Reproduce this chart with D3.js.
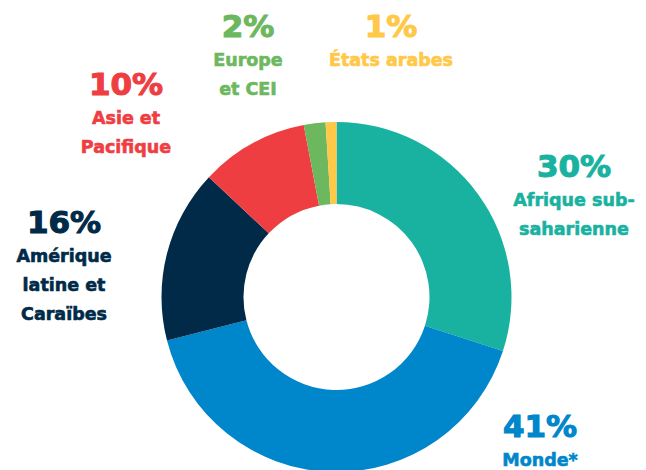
<!DOCTYPE html>
<html>
<head>
<meta charset="utf-8">
<script src="https://cdn.jsdelivr.net/npm/d3@7"></script>
<style>
  body { margin: 0; background: #fff; }
  svg text { font-family: "DejaVu Sans", sans-serif; font-weight: bold; text-anchor: middle; }
</style>
</head>
<body>
<div id="chart"></div>
<script>
// data
var regions = ["Afrique sub-saharienne", "Monde*", "Amérique latine et Caraïbes", "Asie et Pacifique", "Europe et CEI", "États arabes"];
var shares = [30, 41, 16, 10, 2, 1];
var labelLines = [
  ["Afrique sub-", "saharienne"],
  ["Monde*"],
  ["Amérique", "latine et", "Caraïbes"],
  ["Asie et", "Pacifique"],
  ["Europe", "et CEI"],
  ["États arabes"]
];

var width = 646, height = 470;
var cx = 336.5, cy = 297, outerR = 175, innerR = 93;

var color = d3.scaleOrdinal()
  .domain(regions)
  .range(["#19b2a0", "#0086ca", "#002a48", "#ef3e42", "#6db85e", "#ffc846"]);

// where each label block sits (x centre, baseline of the percentage)
var labelPos = [
  {x: 574, y: 177},
  {x: 540, y: 437},
  {x: 64, y: 233},
  {x: 126, y: 95},
  {x: 248, y: 37},
  {x: 391, y: 37}
];

var data = regions.map(function(r, i) {
  return {region: r, value: shares[i], lines: labelLines[i], pos: labelPos[i]};
});

var svg = d3.select("#chart").append("svg")
  .attr("width", width)
  .attr("height", height);

var pie = d3.pie()
  .sort(null)
  .value(function(d) { return d.value; });

var arc = d3.arc()
  .innerRadius(innerR)
  .outerRadius(outerR);

var g = svg.append("g")
  .attr("transform", "translate(" + cx + "," + cy + ")");

g.selectAll("path")
    .data(pie(data))
  .enter().append("path")
    .attr("d", arc)
    .attr("fill", function(d) { return color(d.data.region); });

//labels
var lab = svg.selectAll(".lab")
    .data(data)
  .enter().append("g")
    .attr("class", "lab")
    .attr("fill", function(d) { return color(d.region); })
    .attr("stroke", function(d) { return color(d.region); })
    .attr("transform", function(d) { return "translate(" + d.pos.x + "," + d.pos.y + ")"; });

lab.append("text")
  .attr("font-size", 31)
  .attr("stroke-width", 1.1)
  .text(function(d) { return d.value + "%"; });

lab.each(function(d) {
  var sel = d3.select(this);
  d.lines.forEach(function(line, j) {
    sel.append("text")
      .attr("font-size", 17.5)
      .attr("stroke-width", 0.6)
      .attr("y", 29 + j * 29)
      .text(line);
  });
});
</script>
</body>
</html>
